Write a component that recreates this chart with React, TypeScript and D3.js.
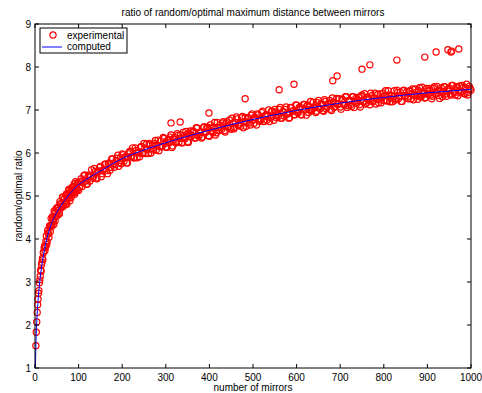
import React from 'react';
import * as d3 from 'd3';

// computed curve
const compN = [1,2,3,4,5,6,8,10,12,15,20,27,35,45,60,76,95,115,150,200,250,300,350,400,450,500,550,600,650,700,750,800,850,900,950,1000];
const compV = [1.0,1.5,1.8,2.05,2.25,2.42,2.7,2.92,3.1,3.35,3.65,4.0,4.28,4.52,4.78,5.0,5.22,5.37,5.58,5.87,6.07,6.24,6.39,6.53,6.66,6.78,6.89,6.99,7.08,7.16,7.23,7.29,7.35,7.40,7.44,7.48];

// experimental
const expEarlyN = [2,3,4,5,6,7,8,9,10,11,12,13,14,15,16,17,18,19,20];
const expEarlyV = [1.52,1.83,2.07,2.29,2.47,2.60,2.74,2.80,2.98,3.05,3.14,3.28,3.25,3.40,3.46,3.55,3.52,3.68,3.70];
const expMidN = d3.range(22, 101, 2);
const expMidV = [3.84,3.81,4.07,3.94,4.14,4.04,4.31,4.31,4.29,4.52,4.43,4.65,4.42,4.62,4.54,4.74,4.67,4.59,4.82,4.80,4.75,4.97,4.78,4.94,4.81,5.05,4.97,4.96,5.16,4.89,5.13,5.07,5.20,5.07,5.28,5.08,5.23,5.17,5.31,5.13];
const expMid2N = d3.range(21, 100, 2);
const expMid2V = [3.80,3.73,3.95,3.87,4.20,4.12,4.29,4.17,4.48,4.33,4.46,4.34,4.61,4.52,4.71,4.55,4.72,4.58,4.87,4.76,4.73,4.97,4.76,4.94,4.86,5.02,4.81,5.02,5.13,4.95,5.07,4.97,5.20,5.09,5.22,5.04,5.33,5.19,5.14,5.30];
const expLateN = d3.range(104, 1001, 4);
const expLateV = [
5.33,5.22,5.47,5.35,5.28,5.49,5.46,5.41,5.64,5.42,5.57,5.66,
5.45,5.60,5.74,5.59,5.74,5.60,5.86,5.75,5.73,5.88,5.69,5.89,5.98,
5.81,5.92,5.77,6.02,5.91,6.12,5.89,6.06,6.00,5.91,6.15,6.00,
6.11,6.21,5.99,6.19,6.10,6.07,6.29,6.18,6.05,6.28,6.16,6.34,6.14,
6.29,6.24,6.42,6.16,6.36,6.24,6.41,6.34,6.24,6.48,6.33,6.43,
6.25,6.51,6.41,6.50,6.35,6.58,6.40,6.49,6.37,6.61,6.48,6.60,6.39,
6.58,6.47,6.71,6.47,6.59,6.65,6.55,6.73,6.49,6.72,6.62,6.59,
6.81,6.56,6.71,6.79,6.66,6.62,6.85,6.73,6.62,6.82,6.70,6.88,6.77,
6.84,6.65,6.89,6.79,6.94,6.73,6.86,6.77,7.00,6.82,6.97,6.76,
6.95,6.89,7.01,6.81,6.96,6.86,7.07,6.91,6.82,7.05,6.98,6.89,7.11,
6.94,7.04,6.89,7.13,7.01,7.10,6.94,7.20,7.01,7.06,6.94,7.17,
7.05,7.15,6.99,7.24,7.03,7.14,7.22,6.99,7.18,7.08,7.27,7.14,7.07,
7.25,7.13,7.31,7.06,7.22,7.12,7.31,7.06,7.27,7.22,7.12,7.32,
7.20,7.38,7.16,7.29,7.12,7.33,7.21,7.39,7.25,7.17,7.38,7.30,7.22,
7.45,7.21,7.35,7.27,7.19,7.45,7.26,7.41,7.32,7.20,7.45,7.32,
7.41,7.26,7.45,7.38,7.24,7.49,7.33,7.45,7.30,7.53,7.37,7.29,7.44,
7.50,7.35,7.32,7.54,7.38,7.45,7.27,7.51,7.42,7.54,7.32,7.49,
7.37,7.57,7.42,7.35,7.54,7.46,7.40,7.57,7.39,7.51,7.35,7.55,7.46
];
const expLate2N = d3.range(102, 999, 4);
const expLate2V = [
5.20,5.40,5.31,5.49,5.27,5.45,5.35,5.61,5.44,5.57,5.40,5.58,
5.69,5.52,5.62,5.74,5.52,5.77,5.67,5.86,5.67,5.82,5.95,5.78,5.75,
5.96,5.89,5.77,5.98,6.04,5.93,5.89,6.12,5.89,6.03,6.13,5.99,
6.22,5.99,6.08,6.22,6.00,6.18,6.22,6.07,6.30,6.15,6.14,6.36,6.22,
6.13,6.32,6.37,6.13,6.32,6.26,6.45,6.25,6.42,6.24,6.39,6.50,
6.25,6.45,6.38,6.51,6.35,6.59,6.40,6.48,6.35,6.59,6.48,6.58,6.40,
6.65,6.50,6.60,6.42,6.71,6.52,6.60,6.70,6.52,6.69,6.60,6.77,
6.55,6.70,6.60,6.84,6.64,6.70,6.82,6.59,6.82,6.72,6.81,6.65,6.91,
6.69,6.81,6.91,6.74,6.77,6.97,6.74,6.89,6.86,6.73,6.96,6.86,
7.01,6.82,6.85,7.06,6.81,6.96,7.01,6.91,6.81,7.06,6.97,6.89,7.12,
6.94,7.06,6.89,7.04,7.13,6.88,7.12,7.01,6.98,7.18,7.06,6.97,
7.22,7.03,7.14,6.97,7.20,7.07,7.15,7.02,7.28,7.06,7.15,7.13,7.26,
7.02,7.24,7.12,7.31,7.10,7.23,7.08,7.31,7.21,7.15,7.30,7.07,
7.35,7.20,7.14,7.30,7.24,7.39,7.19,7.28,7.14,7.36,7.24,7.17,7.39,
7.34,7.22,7.45,7.19,7.34,7.30,7.23,7.46,7.27,7.41,7.20,7.46,
7.34,7.30,7.44,7.26,7.49,7.34,7.41,7.25,7.52,7.32,7.40,7.28,7.50,
7.36,7.46,7.26,7.50,7.39,7.55,7.34,7.45,7.31,7.54,7.37,7.44,
7.51,7.35,7.57,7.40,7.53,7.33,7.56,7.43,7.52,7.37,7.60,7.41,7.50
];
// outliers
const outN = [312,333,399,482,560,594,683,693,750,768,830,894,920,947,954,956,972];
const outV = [6.70,6.72,6.93,7.26,7.47,7.60,7.68,7.79,7.95,8.05,8.16,8.23,8.35,8.40,8.35,8.37,8.42];

const xTicks = [0,100,200,300,400,500,600,700,800,900,1000];
const yTicks = [1,2,3,4,5,6,7,8,9];

const titleText = 'ratio of random/optimal maximum distance between mirrors';
const xLabel = 'number of mirrors';
const yLabel = 'random/optimal ratio';
const legendLabels = ['experimental', 'computed'];

function zip(ns: number[], vs: number[]) {
  const n = Math.min(ns.length, vs.length);
  return d3.range(n).map(i => [ns[i], vs[i]] as [number, number]);
}

export default function App() {
  const W = 482, H = 393;
  const L = 35, R = 471, T = 24, B = 368;
  const x = d3.scaleLinear().domain([0, 1000]).range([L, R]);
  const y = d3.scaleLinear().domain([1, 9]).range([B, T]);
  const pts = [
    ...zip(expEarlyN, expEarlyV),
    ...zip(expMidN, expMidV),
    ...zip(expMid2N, expMid2V),
    ...zip(expLateN, expLateV),
    ...zip(expLate2N, expLate2V),
    ...zip(outN, outV),
  ];
  const line = d3.line<[number, number]>().x(d => x(d[0])).y(d => y(d[1])).curve(d3.curveMonotoneX);
  const comp = zip(compN, compV);
  const font = 'Liberation Sans, Arial, Helvetica, sans-serif';
  const tl = 4;
  const mr = 3.1, mw = 1.2;
  return (
    <svg width={W} height={H} style={{ position: 'absolute', left: 0, top: 0, background: '#fff' }} fontFamily={font}>
      <rect x={0} y={0} width={W} height={H} fill="#fff" />
      <g>
        {pts.map((p, i) => (
          <circle key={i} cx={x(p[0])} cy={y(p[1])} r={mr} fill="none" stroke="#ff0000" strokeWidth={mw} />
        ))}
      </g>
      <path d={line(comp) || ''} fill="none" stroke="#0000ff" strokeWidth={1} />
      {/* axes box */}
      <rect x={L} y={T} width={R - L} height={B - T} fill="none" stroke="#000" strokeWidth={1} />
      {xTicks.map(t => (
        <g key={'x' + t}>
          <line x1={x(t)} x2={x(t)} y1={B} y2={B - tl} stroke="#000" />
          <line x1={x(t)} x2={x(t)} y1={T} y2={T + tl} stroke="#000" />
          <text x={x(t)} y={381} fontSize={10} textAnchor="middle" fill="#000">{t}</text>
        </g>
      ))}
      {yTicks.map(t => (
        <g key={'y' + t}>
          <line x1={L} x2={L + tl} y1={y(t)} y2={y(t)} stroke="#000" />
          <line x1={R} x2={R - tl} y1={y(t)} y2={y(t)} stroke="#000" />
          <text x={31} y={y(t) + 3.5} fontSize={10} textAnchor="end" fill="#000">{t}</text>
        </g>
      ))}
      <text x={(L + R) / 2} y={16} fontSize={10} textAnchor="middle" fill="#000">{titleText}</text>
      <text x={(L + R) / 2} y={391} fontSize={10} textAnchor="middle" fill="#000">{xLabel}</text>
      <text transform={`translate(22,${(T + B) / 2}) rotate(-90)`} fontSize={10} textAnchor="middle" fill="#000">{yLabel}</text>
      {/* legend */}
      <rect x={40} y={28} width={87} height={25} fill="#fff" stroke="#000" strokeWidth={1} />
      <circle cx={53} cy={35} r={mr} fill="none" stroke="#ff0000" strokeWidth={mw} />
      <text x={67} y={39} fontSize={10} fill="#000">{legendLabels[0]}</text>
      <line x1={42} x2={62} y1={47} y2={47} stroke="#0000ff" strokeWidth={1} />
      <text x={67} y={50} fontSize={10} fill="#000">{legendLabels[1]}</text>
    </svg>
  );
}
